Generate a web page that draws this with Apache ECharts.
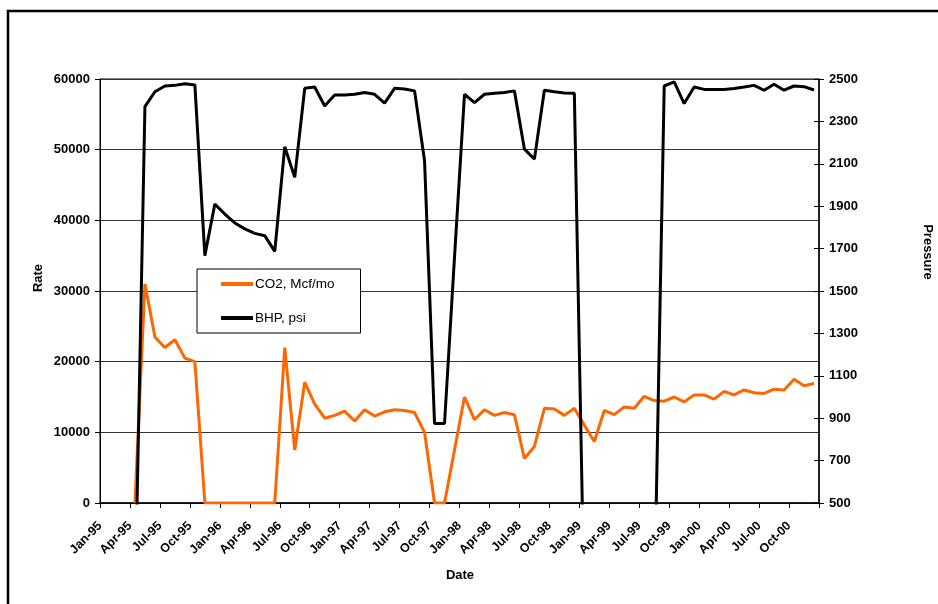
<!DOCTYPE html>
<html>
<head>
<meta charset="utf-8">
<script src="https://cdn.jsdelivr.net/npm/echarts@6/dist/echarts.min.js"></script>
<style>
html,body{margin:0;padding:0;background:#fff;}
#chart{width:938px;height:604px;}
</style>
</head>
<body>
<div id="chart"></div>
<script>
const months = [
 'Jan-95','Feb-95','Mar-95','Apr-95','May-95','Jun-95','Jul-95','Aug-95','Sep-95','Oct-95','Nov-95','Dec-95',
 'Jan-96','Feb-96','Mar-96','Apr-96','May-96','Jun-96','Jul-96','Aug-96','Sep-96','Oct-96','Nov-96','Dec-96',
 'Jan-97','Feb-97','Mar-97','Apr-97','May-97','Jun-97','Jul-97','Aug-97','Sep-97','Oct-97','Nov-97','Dec-97',
 'Jan-98','Feb-98','Mar-98','Apr-98','May-98','Jun-98','Jul-98','Aug-98','Sep-98','Oct-98','Nov-98','Dec-98',
 'Jan-99','Feb-99','Mar-99','Apr-99','May-99','Jun-99','Jul-99','Aug-99','Sep-99','Oct-99','Nov-99','Dec-99',
 'Jan-00','Feb-00','Mar-00','Apr-00','May-00','Jun-00','Jul-00','Aug-00','Sep-00','Oct-00','Nov-00','Dec-00'
];
const co2 = [
 null,null,null,0,31000,23500,22000,23100,20500,20000,0,0,
 0,0,0,0,0,0,22000,7500,17100,14000,12000,12400,
 13000,11600,13200,12300,12900,13200,13100,12800,10000,0,0,7500,
 15000,11800,13200,12400,12800,12500,6300,8000,13400,13300,12400,13400,
 11000,8700,13100,12500,13600,13400,15100,14500,14400,15000,14300,15300,
 15300,14700,15800,15300,16000,15600,15500,16100,16000,17500,16600,16900
];
const bhp = [
 null,null,null,0,2370,2440,2467,2470,2478,2472,1667,1910,
 1863,1821,1793,1772,1761,1687,2180,2036,2456,2462,2373,2425,
 2425,2428,2436,2428,2386,2456,2453,2444,2114,875,875,1660,
 2428,2389,2428,2433,2436,2444,2169,2122,2447,2440,2434,2433,
 0,0,0,0,0,0,0,0,2467,2487,2384,2462,
 2451,2450,2451,2455,2462,2470,2447,2475,2447,2467,2464,2448
];
const seriesNames = ['CO2, Mcf/mo', 'BHP, psi'];
const rateTicks = {min: 0, max: 60000, interval: 10000};
const pressTicks = {min: 500, max: 2500, interval: 200};

const FONT = "'Liberation Sans', Arial, sans-serif";
const chart = echarts.init(document.getElementById('chart'), null, {renderer: 'canvas'});
const tickLabel = {color: '#000', fontFamily: FONT, fontWeight: 'bold', fontSize: 13, formatter: v => String(v)};

chart.setOption({
  backgroundColor: '#fff',
  animation: false,
  grid: {left: 100, top: 79, width: 719, height: 424, show: true, borderColor: '#000', borderWidth: 1, backgroundColor: 'transparent', containLabel: false},
  legend: {
    data: seriesNames,
    orient: 'vertical',
    left: 197, top: 269,
    backgroundColor: '#fff',
    borderColor: '#000', borderWidth: 1, borderRadius: 0,
    padding: [8, 26, 8, 24],
    itemGap: 20,
    itemWidth: 32, itemHeight: 4,
    icon: 'rect',
    textStyle: {color: '#000', fontFamily: FONT, fontSize: 13.5, padding: [0, 0, 0, -3]}
  },
  xAxis: {
    type: 'category',
    data: months,
    boundaryGap: true,
    axisLine: {lineStyle: {color: '#000', width: 1.5}},
    axisTick: {show: true, interval: 2, length: 5, lineStyle: {color: '#000', width: 1}},
    axisLabel: {interval: 2, rotate: 45, margin: 16, padding: [0, 7, 0, 0], color: '#000', fontFamily: FONT, fontWeight: 'bold', fontSize: 12.5},
    splitLine: {show: false}
  },
  yAxis: [
    {
      type: 'value', position: 'left',
      min: rateTicks.min, max: rateTicks.max, interval: rateTicks.interval,
      axisLine: {show: true, lineStyle: {color: '#000', width: 1}},
      axisTick: {show: true, length: 5, lineStyle: {color: '#000'}},
      axisLabel: Object.assign({margin: 10}, tickLabel),
      splitLine: {show: true, lineStyle: {color: '#333', width: 1}}
    },
    {
      type: 'value', position: 'right',
      min: pressTicks.min, max: pressTicks.max, interval: pressTicks.interval,
      axisLine: {show: true, lineStyle: {color: '#000', width: 1.5}},
      axisTick: {show: true, length: 5, lineStyle: {color: '#000'}},
      axisLabel: Object.assign({margin: 10}, tickLabel),
      splitLine: {show: false}
    },
    {
      type: 'value', position: 'right',
      min: pressTicks.min, max: pressTicks.max, interval: pressTicks.interval,
      axisLine: {show: false},
      axisTick: {show: true, inside: true, length: 5, lineStyle: {color: '#000'}},
      axisLabel: {show: false},
      splitLine: {show: false}
    }
  ],
  series: [
    {
      name: seriesNames[0], type: 'line', yAxisIndex: 0, data: co2,
      symbol: 'none', connectNulls: false, clip: true,
      itemStyle: {color: '#FF6600'},
      lineStyle: {color: '#FF6600', width: 3}
    },
    {
      name: seriesNames[1], type: 'line', yAxisIndex: 1, data: bhp,
      symbol: 'none', connectNulls: false, clip: true,
      itemStyle: {color: '#000'},
      lineStyle: {color: '#000', width: 3}
    }
  ],
  graphic: [
    {type: 'rect', shape: {x: 8, y: 11, width: 1000, height: 1000}, style: {fill: 'none', stroke: '#000', lineWidth: 2.5}, silent: true},
    {type: 'text', x: 38, y: 278, rotation: Math.PI / 2, style: {text: 'Rate', fill: '#000', font: "bold 13px 'Liberation Sans', Arial", textAlign: 'center', textVerticalAlign: 'middle'}},
    {type: 'text', x: 928, y: 252, rotation: -Math.PI / 2, style: {text: 'Pressure', fill: '#000', font: "bold 13px 'Liberation Sans', Arial", textAlign: 'center', textVerticalAlign: 'middle'}},
    {type: 'text', x: 460, y: 575, style: {text: 'Date', fill: '#000', font: "bold 13px 'Liberation Sans', Arial", textAlign: 'center', textVerticalAlign: 'middle'}}
  ]
});
</script>
</body>
</html>
